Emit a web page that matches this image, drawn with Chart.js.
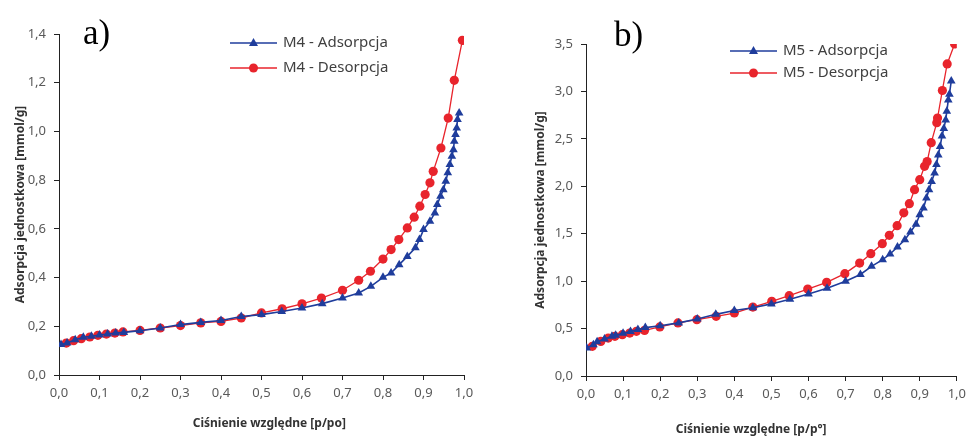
<!DOCTYPE html>
<html><head><meta charset="utf-8">
<script src="https://cdn.jsdelivr.net/npm/chart.js@4/dist/chart.umd.min.js"></script>
<style>
html,body{margin:0;padding:0;background:#fff;}
#wrap{position:relative;width:971px;height:441px;overflow:hidden;}
canvas{position:absolute;top:0;}
.lab{position:absolute;font-family:"Liberation Serif",serif;font-size:35px;color:#000;line-height:1;}
</style></head>
<body><div id="wrap">
<canvas id="ca" width="490" height="441" style="left:0;width:490px;height:441px"></canvas>
<canvas id="cb" width="481" height="441" style="left:490px;width:481px;height:441px"></canvas>
<div class="lab" style="left:83px;top:15px">a)</div>
<div class="lab" style="left:614px;top:17px">b)</div>
</div>
<script>
// ---- data: chart a (M4) ----
const m4AdsX = [0.005,0.02,0.04,0.06,0.08,0.10,0.12,0.14,0.16,0.20,0.25,0.30,0.35,0.40,0.45,0.50,0.55,0.60,0.65,0.70,0.74,0.77,0.80,0.82,0.84,0.86,0.88,0.89,0.90,0.916,0.928,0.934,0.942,0.949,0.955,0.96,0.965,0.97,0.974,0.976,0.979,0.982,0.984,0.988];
const m4AdsY = [0.125,0.131,0.145,0.155,0.159,0.164,0.168,0.172,0.175,0.182,0.193,0.207,0.216,0.224,0.240,0.248,0.261,0.275,0.293,0.316,0.337,0.364,0.401,0.419,0.453,0.487,0.522,0.556,0.597,0.631,0.665,0.700,0.734,0.761,0.795,0.830,0.864,0.898,0.925,0.960,0.987,1.014,1.049,1.076];
const m4DesX = [0.018,0.036,0.055,0.076,0.096,0.117,0.138,0.158,0.20,0.25,0.30,0.35,0.40,0.45,0.50,0.551,0.60,0.648,0.70,0.74,0.769,0.80,0.82,0.839,0.86,0.877,0.891,0.904,0.916,0.924,0.943,0.961,0.976,0.996];
const m4DesY = [0.131,0.141,0.149,0.156,0.163,0.168,0.172,0.177,0.183,0.193,0.203,0.214,0.220,0.234,0.255,0.272,0.292,0.316,0.348,0.389,0.426,0.476,0.515,0.556,0.604,0.648,0.693,0.741,0.789,0.836,0.932,1.055,1.210,1.374];
// ---- data: chart b (M5) ----
const m5AdsX = [0.002,0.02,0.03,0.05,0.07,0.08,0.10,0.12,0.14,0.16,0.20,0.25,0.30,0.35,0.40,0.45,0.50,0.55,0.60,0.65,0.70,0.74,0.77,0.80,0.82,0.84,0.86,0.875,0.89,0.90,0.91,0.918,0.925,0.932,0.94,0.945,0.95,0.955,0.96,0.965,0.97,0.973,0.977,0.98,0.985];
const m5AdsY = [0.295,0.33,0.36,0.39,0.42,0.43,0.45,0.47,0.49,0.51,0.53,0.56,0.60,0.65,0.69,0.72,0.76,0.81,0.865,0.924,1.00,1.07,1.156,1.226,1.286,1.36,1.437,1.518,1.60,1.70,1.77,1.876,1.964,2.05,2.14,2.23,2.33,2.42,2.53,2.61,2.70,2.79,2.91,2.97,3.11];
const m5DesX = [0.017,0.04,0.06,0.078,0.098,0.118,0.136,0.158,0.199,0.248,0.299,0.351,0.40,0.45,0.501,0.548,0.598,0.649,0.698,0.738,0.768,0.799,0.818,0.839,0.857,0.872,0.886,0.90,0.913,0.92,0.931,0.946,0.948,0.961,0.974,0.994];
const m5DesY = [0.313,0.365,0.40,0.418,0.436,0.453,0.471,0.481,0.517,0.559,0.594,0.629,0.664,0.727,0.787,0.847,0.917,0.987,1.079,1.19,1.29,1.395,1.483,1.585,1.72,1.817,1.964,2.07,2.21,2.26,2.46,2.67,2.72,3.01,3.29,3.50];
const xTicks = [0,0.1,0.2,0.3,0.4,0.5,0.6,0.7,0.8,0.9,1.0];

const BLUE = '#1f3d9c', RED = '#e8242c';
const tickFont = {family:'"Noto Sans", sans-serif', size:13};
const titleFont = {family:'"Noto Sans", sans-serif', size:12, weight:'bold'};

const pts = (xs, ys) => xs.map((x,i)=>({x, y:ys[i]}));

const legendPlugin = {
  id:'ownLegend',
  afterDraw(chart, args, opts){
    const ctx = chart.ctx;
    chart.data.datasets.forEach((ds,i)=>{
      const y = opts.y + i*opts.dy;
      ctx.save();
      ctx.strokeStyle = ds.borderColor; ctx.lineWidth = ds.borderWidth;
      ctx.beginPath(); ctx.moveTo(opts.x, y); ctx.lineTo(opts.x+opts.w, y); ctx.stroke();
      ctx.fillStyle = ds.pointBackgroundColor; ctx.beginPath();
      const cx = opts.x+opts.w/2;
      if (ds.pointStyle==='triangle'){ ctx.moveTo(cx, y-5); ctx.lineTo(cx+4.5,y+3); ctx.lineTo(cx-4.5,y+3); ctx.closePath(); }
      else { ctx.arc(cx, y, 4.5, 0, Math.PI*2); }
      ctx.fill();
      ctx.fillStyle = '#404040'; ctx.font = '15px "Noto Sans", sans-serif';
      ctx.textBaseline = 'middle'; ctx.textAlign='left';
      ctx.fillText(ds.label, opts.x+opts.w+6, y);
      ctx.restore();
    });
  }
};

function makeChart(id, cfg){
  return new Chart(document.getElementById(id), {
    type:'scatter',
    data:{datasets:[
      {label:cfg.labels[0], data:pts(cfg.ax,cfg.ay), showLine:true, borderColor:BLUE, backgroundColor:BLUE, pointBackgroundColor:BLUE, pointBorderColor:BLUE, borderWidth:1.6, pointStyle:'triangle', pointRadius:5, pointBorderWidth:0},
      {label:cfg.labels[1], data:pts(cfg.dx,cfg.dy), showLine:true, borderColor:RED, backgroundColor:RED, pointBackgroundColor:RED, pointBorderColor:RED, borderWidth:1.3, pointStyle:'circle', pointRadius:4.6, pointBorderWidth:0}
    ]},
    options:{
      responsive:false, animation:false,
      layout:{padding:{left:0, top:cfg.top, right:cfg.right, bottom:0}},
      plugins:{legend:{display:false}, tooltip:{enabled:false}, ownLegend:cfg.legend},
      scales:{
        x:{type:'linear', min:0, max:1,
          afterBuildTicks:(s)=>{s.ticks = xTicks.map(v=>({value:v}));},
          ticks:{font:tickFont, color:'#595959', padding:5, maxRotation:0, callback:(v)=>v.toFixed(1).replace('.',',')},
          grid:{drawOnChartArea:false, drawTicks:true, tickLength:5, color:'#222'},
          border:{display:true, color:'#222', width:1},
          title:{display:true, text:cfg.xTitle, font:titleFont, color:'#333', padding:{top:0,bottom:cfg.xTitlePad}},
          afterFit:(s)=>{s.height = cfg.xH;}
        },
        y:{type:'linear', min:0, max:cfg.ymax,
          ticks:{stepSize:cfg.ystep, font:tickFont, color:'#595959', padding:8, callback:(v)=>v.toFixed(1).replace('.',',')},
          grid:{drawOnChartArea:false, drawTicks:true, tickLength:5, color:'#222'},
          border:{display:true, color:'#222', width:1},
          title:{display:true, text:'Adsorpcja jednostkowa [mmol/g]', font:titleFont, color:'#333', padding:{top:cfg.yTitlePad,bottom:0}},
          afterFit:(s)=>{s.width = cfg.yW;}
        }
      }
    },
    plugins:[legendPlugin]
  });
}

makeChart('ca', {ax:m4AdsX, ay:m4AdsY, dx:m4DesX, dy:m4DesY, labels:['M4 - Adsorpcja','M4 - Desorpcja'],
  top:34, right:26, yW:59, xH:66, ymax:1.4, ystep:0.2, xTitle:'     Ciśnienie względne [p/po]', xTitlePad:10, yTitlePad:13,
  legend:{x:230, y:43, dy:25, w:47}});
makeChart('cb', {ax:m5AdsX, ay:m5AdsY, dx:m5DesX, dy:m5DesY, labels:['M5 - Adsorpcja','M5 - Desorpcja'],
  top:44, right:13, yW:96, xH:65, ymax:3.5, ystep:0.5, xTitle:'Ciśnienie względne [p/p°]             ', xTitlePad:4, yTitlePad:43,
  legend:{x:240, y:51, dy:22, w:47}});
</script>
</body></html>
